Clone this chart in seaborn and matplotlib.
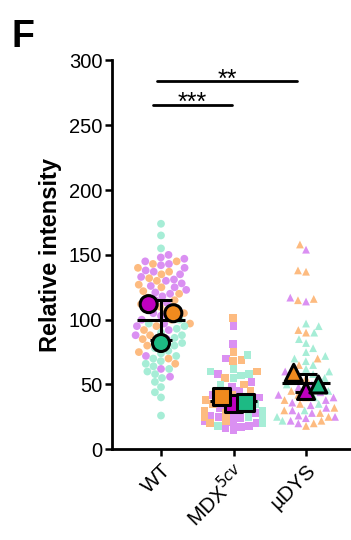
import matplotlib
matplotlib.use("Agg")
import matplotlib.pyplot as plt
import seaborn as sns
import numpy as np
import pandas as pd

sns.set_theme(style="ticks")
plt.rcParams['font.family'] = ['Liberation Sans', 'DejaVu Sans']
for k in ["axes.edgecolor", "xtick.color", "ytick.color", "text.color", "axes.labelcolor"]:
    plt.rcParams[k] = "black"

categories = ["WT", "MDX5cv", "uDYS"]
tick_labels = ["WT", "MDX$^{5cv}$", "\u00b5DYS"]
replicates = ["purple", "orange", "green"]

wt_purple = [150, 148, 147, 145, 143, 142, 140, 138, 137, 135, 133, 131, 130, 128, 126, 125,
             123, 121, 120, 118, 115, 113, 110, 108, 105, 103, 100, 97, 95, 92, 88, 85, 80, 72, 62, 56]
wt_orange = [145, 143, 140, 137, 135, 132, 130, 127, 125, 122, 120, 117, 115, 112, 110, 107,
             105, 100, 97, 95, 92, 88, 85, 80, 75, 70, 66]
wt_green = [174, 165, 155, 100, 97, 95, 93, 90, 88, 86, 84, 82, 80, 78, 76, 74, 72, 70, 68, 66,
            64, 62, 60, 58, 55, 52, 48, 44, 40, 26]
mdx_purple = [95, 81, 70, 58, 52, 48, 45, 42, 40, 38, 36, 34, 32, 30, 28, 27, 26, 25, 24, 22,
              21, 20, 18, 17, 16, 15]
mdx_orange = [101, 75, 69, 68, 60, 55, 50, 45, 42, 40, 38, 35, 33, 30, 28, 25, 22, 20]
mdx_green = [73, 62, 60, 58, 57, 55, 50, 45, 40, 35, 30, 28, 25, 22, 20, 18]
udys_purple = [154, 117, 114, 60, 55, 50, 48, 46, 44, 42, 40, 38, 36, 34, 32, 30, 28, 26, 25,
               24, 22, 20]
udys_orange = [158, 138, 137, 116, 115, 92, 90, 70, 65, 60, 55, 50, 45, 42, 40, 38, 35, 32, 30,
               28, 25, 22, 20, 18]
udys_green = [97, 95, 90, 85, 82, 78, 75, 72, 70, 68, 65, 62, 60, 58, 55, 50, 45, 40, 35, 30,
              25, 22]

# replicate means
wt_means = [112, 105, 82]
mdx_means = [35, 41, 36]
udys_means = [45, 59, 50]
# left-to-right order of the replicate mean markers in each group
mean_order = [["purple", "green", "orange"],
              ["orange", "purple", "green"],
              ["orange", "purple", "green"]]

# significance comparisons
sig_labels = ["***", "**"]
sig_levels = [266, 284]
sig_spans = [(-0.11, 0.98), (-0.055, 1.876)]

light_pal = {"purple": "#DA90F2", "orange": "#FDBB80", "green": "#A6EDD6"}
dark_pal = {"purple": "#C000C0", "orange": "#F08A1E", "green": "#1DBA84"}
markers = ["o", "s", "^"]

raw = {
    "WT": {"purple": wt_purple, "orange": wt_orange, "green": wt_green},
    "MDX5cv": {"purple": mdx_purple, "orange": mdx_orange, "green": mdx_green},
    "uDYS": {"purple": udys_purple, "orange": udys_orange, "green": udys_green},
}
means = {"WT": wt_means, "MDX5cv": mdx_means, "uDYS": udys_means}

rows = []
for c in categories:
    for r in replicates:
        for v in raw[c][r]:
            rows.append((c, r, v))
df = pd.DataFrame(rows, columns=["group", "rep", "value"])

fig = plt.figure(figsize=(3.51, 5.40), dpi=100)
ax = fig.add_axes([0.319, 0.168, 0.681, 0.72])

for i, c in enumerate(categories):
    sub = df[df["group"] == c]
    sns.swarmplot(data=sub, x="group", y="value", hue="rep", order=categories,
                  hue_order=replicates, palette=light_pal, marker=markers[i], size=5.6,
                  linewidth=0, ax=ax, legend=False, zorder=1, warn_thresh=1)

# replicate means, mean and SD
for i, c in enumerate(categories):
    m = np.array(means[c], dtype=float)
    mu = m.mean()
    sd = m.std(ddof=1)
    ax.hlines(mu, i - 0.33, i + 0.33, color="black", lw=2.2, zorder=3)
    ax.vlines(i, mu - sd, mu + sd, color="black", lw=2.2, zorder=3)
    ax.hlines([mu - sd, mu + sd], i - 0.15, i + 0.15, color="black", lw=2.2, zorder=3)
    mdf = pd.DataFrame({"rep": replicates, "value": m})
    mdf["x"] = [i + 0.17 * (mean_order[i].index(r) - 1) for r in replicates]
    sns.scatterplot(data=mdf, x="x", y="value", hue="rep", palette=dark_pal,
                    marker=markers[i], s=150, edgecolor="black", linewidth=2.2,
                    ax=ax, legend=False, zorder=4)

for lab, lev, (x0, x1) in zip(sig_labels, sig_levels, sig_spans):
    ax.plot([x0, x1], [lev, lev], color="black", lw=2, clip_on=False)
    ax.text((x0 + x1) / 2, lev - 4, lab, ha="center", va="baseline", fontsize=18)

ax.set_xlim(-0.676, 2.62)
ax.set_ylim(0, 300)
ax.set_yticks([0, 50, 100, 150, 200, 250, 300])
ax.set_xticks(range(len(categories)))
ax.set_xticklabels(tick_labels, rotation=45, ha="right", rotation_mode="anchor", fontsize=15)
ax.tick_params(axis="y", labelsize=14.5, width=1.8, length=5, pad=2)
ax.tick_params(axis="x", width=1.8, length=5, pad=3)
ax.set_xlabel("")
ax.set_ylabel("Relative intensity", fontsize=17, fontweight="bold", labelpad=5)
for s in ["top", "right"]:
    ax.spines[s].set_visible(False)
for s in ["left", "bottom"]:
    ax.spines[s].set_linewidth(2)

fig.text(0.033, 0.965, "F", fontsize=27, fontweight="bold", va="top", ha="left")

fig.savefig("out.png", dpi=100)
